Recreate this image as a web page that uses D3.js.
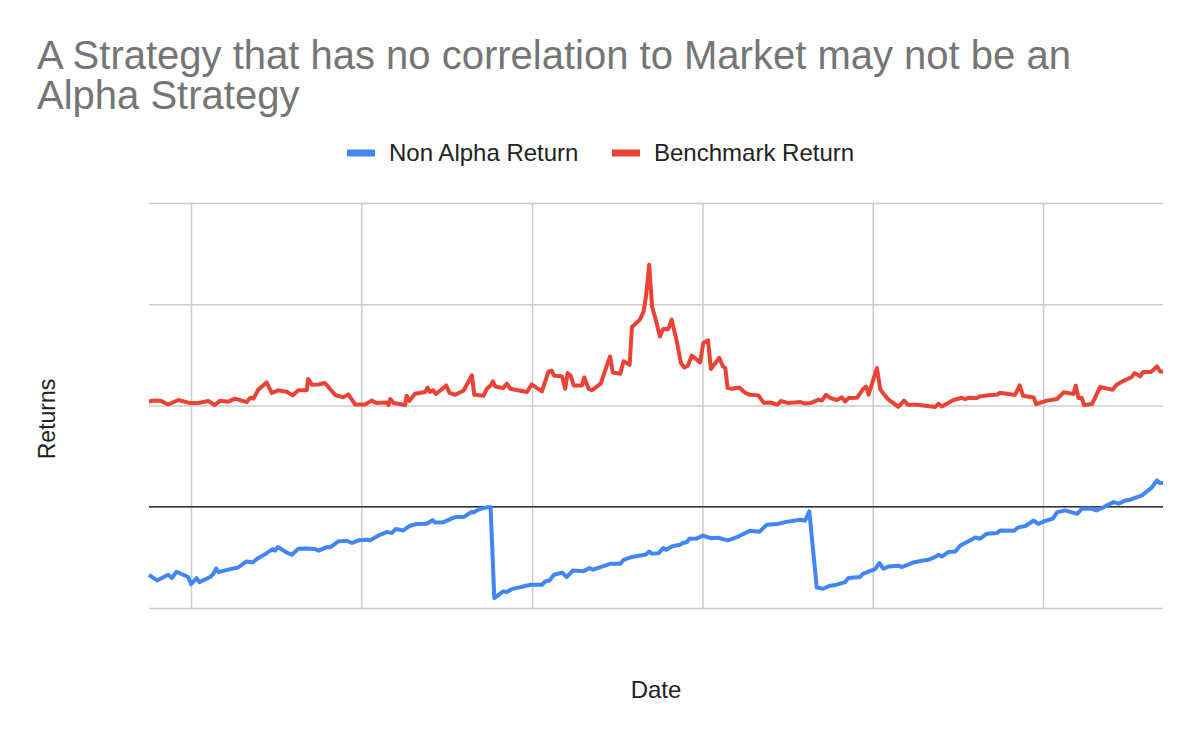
<!DOCTYPE html>
<html>
<head>
<meta charset="utf-8">
<script src="https://cdn.jsdelivr.net/npm/d3@7"></script>
<style>
  body { margin: 0; background: #fff; }
  svg { display: block; font-family: Arial, "Liberation Sans", sans-serif; }
</style>
</head>
<body>
<svg width="1200" height="742"></svg>
<script>
// days are counted from startDate
const startDate = new Date(2014, 9, 3);
const lastDay = 2173;
const gridYears = [2015, 2016, 2017, 2018, 2019, 2020];
const yTicks = [-50, 0, 50, 100, 150];

const nonAlphaDays = [0, 17, 41, 49, 59, 84, 90, 102, 108, 131, 138, 144, 149, 174, 191, 209, 222, 231, 249, 265,
  270, 276, 295, 306, 320, 338, 356, 363, 381, 388, 406, 424, 435, 449, 467, 474, 492, 510, 520, 529,
  545, 559, 574, 595, 608, 613, 631, 656, 674, 692, 695, 709, 724, 732, 740, 759, 767, 777, 802, 818,
  842, 849, 858, 868, 885, 895, 908, 931, 944, 952, 988, 1010, 1017, 1035, 1065, 1072, 1078, 1092, 1102, 1108,
  1120, 1138, 1144, 1153, 1158, 1174, 1187, 1203, 1220, 1240, 1263, 1287, 1308, 1324, 1347, 1363, 1396, 1406, 1415, 1431,
  1444, 1460, 1474, 1492, 1499, 1524, 1530, 1542, 1556, 1565, 1574, 1585, 1606, 1613, 1628, 1638, 1656, 1670, 1685, 1692,
  1699, 1713, 1728, 1738, 1771, 1781, 1796, 1817, 1824, 1853, 1863, 1878, 1896, 1906, 1917, 1937, 1946, 1963, 1989, 1999,
  2021, 2030, 2042, 2067, 2078, 2092, 2103, 2128, 2149, 2160, 2166, 2173];
const nonAlphaReturns = [-33.6, -36.4, -33.6, -35.2, -32.1, -34.7, -38.2, -35.2, -37.2, -34.7, -33.1, -30.5, -32.3, -30.8, -30.0, -27.0, -27.5, -25.8, -23.4, -20.9,
  -21.7, -19.9, -22.6, -23.7, -20.7, -20.6, -20.9, -21.7, -19.9, -20.1, -17.1, -16.8, -17.9, -16.6, -16.3, -16.6, -14.2, -12.4, -13.0, -11.0,
  -11.7, -9.4, -8.5, -8.4, -6.6, -7.8, -7.6, -5.1, -5.1, -2.5, -2.8, -1.1, -0.3, -0.3, -45.1, -41.8, -42.1, -40.7, -39.4, -38.5,
  -38.5, -36.9, -36.4, -33.6, -32.5, -34.7, -31.5, -31.8, -30.3, -31.1, -28.2, -28.2, -26.2, -24.8, -23.6, -22.1, -23.2, -22.9, -20.4, -21.2,
  -19.6, -18.8, -17.9, -17.4, -15.8, -15.7, -14.2, -15.5, -15.3, -16.6, -14.7, -11.9, -12.4, -8.9, -8.5, -7.6, -6.4, -6.9, -2.3, -39.9,
  -40.5, -39.0, -38.5, -37.2, -35.2, -34.7, -33.1, -32.0, -30.8, -27.8, -30.6, -29.5, -29.1, -29.8, -28.5, -27.5, -26.7, -26.2, -24.8, -23.7,
  -24.6, -22.4, -22.1, -19.3, -15.2, -15.8, -13.3, -13.0, -11.7, -11.9, -10.2, -9.5, -6.8, -8.5, -7.3, -5.9, -2.8, -1.8, -3.5, -1.0,
  -1.0, -1.8, -0.6, 2.3, 1.5, 3.1, 3.5, 5.6, 9.5, 13.0, 11.7, 11.7];

const benchmarkDays = [0, 13, 24, 41, 63, 88, 106, 127, 141, 152, 170, 184, 209, 217, 224, 234, 252, 263, 277, 295,
  308, 320, 338, 341, 349, 363, 377, 399, 416, 427, 442, 463, 477, 488, 510, 513, 517, 524, 549, 552,
  558, 570, 592, 597, 602, 609, 615, 637, 644, 656, 674, 692, 697, 717, 724, 732, 737, 742, 759, 767,
  774, 810, 820, 842, 856, 863, 868, 885, 892, 897, 904, 910, 928, 933, 942, 949, 968, 988, 994, 1010,
  1017, 1030, 1035, 1052, 1060, 1065, 1072, 1078, 1085, 1095, 1102, 1113, 1120, 1131, 1140, 1147, 1155, 1163, 1181, 1188,
  1198, 1204, 1222, 1230, 1235, 1240, 1249, 1265, 1278, 1288, 1306, 1318, 1331, 1347, 1354, 1370, 1396, 1406, 1417, 1435,
  1442, 1451, 1460, 1474, 1485, 1492, 1499, 1517, 1531, 1537, 1542, 1560, 1567, 1574, 1585, 1606, 1618, 1626, 1646, 1663,
  1685, 1692, 1699, 1724, 1742, 1749, 1756, 1774, 1781, 1803, 1817, 1824, 1856, 1866, 1873, 1896, 1901, 1924, 1946, 1960,
  1981, 1986, 1992, 1999, 2004, 2021, 2038, 2065, 2073, 2085, 2106, 2112, 2124, 2130, 2147, 2160, 2167, 2173];
const benchmarkReturns = [52.0, 52.5, 52.4, 50.5, 52.7, 51.2, 51.2, 52.2, 50.2, 52.4, 51.9, 53.4, 51.7, 53.8, 53.4, 57.8, 61.4, 56.2, 57.5, 56.8,
  55.0, 57.5, 57.5, 63.1, 60.3, 60.4, 61.1, 55.2, 54.0, 55.5, 50.5, 50.5, 52.4, 51.2, 51.5, 50.2, 53.2, 51.2, 50.2, 54.8,
  52.2, 55.8, 56.7, 58.8, 56.7, 57.5, 55.7, 59.9, 56.2, 55.3, 57.3, 64.9, 55.3, 54.8, 58.3, 59.9, 61.9, 59.4, 58.6, 60.8,
  58.3, 56.7, 60.4, 57.0, 66.7, 67.2, 64.7, 64.4, 58.3, 66.0, 64.7, 59.9, 59.9, 63.9, 58.3, 57.5, 60.8, 74.2, 66.3, 65.7,
  71.8, 70.1, 88.8, 92.4, 96.5, 103.9, 119.5, 98.9, 93.2, 84.1, 87.8, 87.8, 92.4, 81.7, 71.0, 68.8, 69.7, 74.6, 71.3, 80.9,
  82.2, 68.0, 73.5, 69.3, 68.5, 58.6, 58.3, 58.9, 56.2, 55.3, 55.0, 51.2, 51.5, 50.4, 52.2, 51.2, 51.7, 51.0, 51.2, 52.9,
  52.5, 55.3, 53.7, 52.7, 54.0, 52.0, 53.7, 53.8, 58.3, 59.3, 55.3, 68.5, 58.1, 55.7, 52.9, 49.3, 52.4, 50.4, 50.4, 49.9,
  49.3, 50.9, 49.5, 52.7, 53.8, 53.2, 53.8, 53.7, 54.5, 55.2, 55.3, 56.3, 55.2, 59.9, 54.8, 54.0, 50.7, 52.4, 53.2, 56.5,
  55.7, 59.8, 53.7, 53.7, 50.2, 50.7, 59.1, 57.8, 60.1, 61.8, 64.1, 66.0, 64.4, 66.5, 66.5, 69.3, 66.8, 66.7];

const seriesNames = ["Non Alpha Return", "Benchmark Return"];
const seriesColors = ["#4285f4", "#ea4335"];

const svg = d3.select("svg");
const margin = { top: 203, right: 37, bottom: 134, left: 149 };
const width = 1200 - margin.left - margin.right,
      height = 742 - margin.top - margin.bottom;

const toDate = d => d3.timeDay.offset(startDate, d);

const x = d3.scaleTime()
  .domain([startDate, toDate(lastDay)])
  .range([0, width]);

const y = d3.scaleLinear()
  .domain([-50, 150])
  .range([height, 0]);

const g = svg.append("g")
  .attr("transform", `translate(${margin.left},${margin.top})`);

// grid
g.append("g")
  .call(d3.axisLeft(y).tickValues(yTicks).tickSize(-width).tickFormat(""))
  .call(a => a.select(".domain").remove())
  .call(a => a.selectAll("line").attr("stroke", "#cccccc").attr("stroke-width", 1.5));

g.append("g")
  .attr("transform", `translate(0,${height})`)
  .call(d3.axisBottom(x).tickValues(gridYears.map(yr => new Date(yr, 0, 1))).tickSize(-height).tickFormat(""))
  .call(a => a.select(".domain").remove())
  .call(a => a.selectAll("line").attr("stroke", "#cccccc").attr("stroke-width", 1.5));

// zero baseline
g.append("line")
  .attr("x1", 0).attr("x2", width)
  .attr("y1", y(0)).attr("y2", y(0))
  .attr("stroke", "#333333")
  .attr("stroke-width", 1.5);

const line = d3.line()
  .x(d => x(toDate(d[0])))
  .y(d => y(d[1]));

const series = [
  d3.zip(nonAlphaDays, nonAlphaReturns),
  d3.zip(benchmarkDays, benchmarkReturns)
];

g.selectAll("path.series")
  .data(series)
  .enter().append("path")
  .attr("class", "series")
  .attr("fill", "none")
  .attr("stroke", (d, i) => seriesColors[i])
  .attr("stroke-width", 4)
  .attr("stroke-linejoin", "round")
  .attr("d", line);

// title
svg.append("text")
  .attr("fill", "#757575")
  .attr("font-size", 40)
  .selectAll("tspan")
  .data(["A Strategy that has no correlation to Market may not be an", "Alpha Strategy"])
  .enter().append("tspan")
  .attr("x", 37)
  .attr("y", (d, i) => 69 + i * 40)
  .text(d => d);

// legend
const legendX = [347, 612];
const legend = svg.selectAll("g.legend")
  .data(seriesNames)
  .enter().append("g")
  .attr("class", "legend")
  .attr("transform", (d, i) => `translate(${legendX[i]},153)`);

legend.append("rect")
  .attr("x", 0).attr("y", -3.5)
  .attr("width", 28).attr("height", 7)
  .attr("fill", (d, i) => seriesColors[i]);

legend.append("text")
  .attr("x", 42).attr("y", 8)
  .attr("font-size", 24)
  .attr("fill", "#222222")
  .text(d => d);

// axis titles
svg.append("text")
  .attr("x", 656)
  .attr("y", 698)
  .attr("text-anchor", "middle")
  .attr("font-size", 24)
  .attr("fill", "#222222")
  .text("Date");

svg.append("text")
  .attr("transform", "translate(55,419) rotate(-90)")
  .attr("text-anchor", "middle")
  .attr("font-size", 23)
  .attr("fill", "#222222")
  .text("Returns");
</script>
</body>
</html>
